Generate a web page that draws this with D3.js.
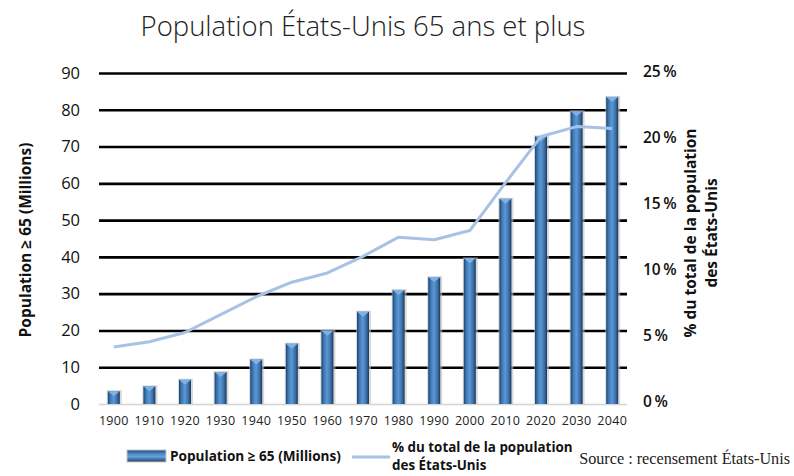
<!DOCTYPE html>
<html>
<head>
<meta charset="utf-8">
<script src="https://cdn.jsdelivr.net/npm/d3@7"></script>
<style>
  body { margin: 0; background: #fff; }
  svg { display: block; font-family: "Open Sans", "Noto Sans", sans-serif; }
</style>
</head>
<body>
<div id="chart"></div>
<script>
// data
var years = ["1900", "1910", "1920", "1930", "1940", "1950", "1960", "1970",
             "1980", "1990", "2000", "2010", "2020", "2030", "2040"];
var popMillions = [3.5, 4.8, 6.6, 8.7, 12.1, 16.4, 19.9, 25.1,
                   31.0, 34.5, 39.6, 55.8, 72.8, 79.6, 83.5];
var pctTotal = [4.3, 4.7, 5.4, 6.75, 8.1, 9.2, 9.9, 11.15,
                12.6, 12.4, 13.1, 16.7, 20.2, 20.95, 20.8];
var leftTicks = [0, 10, 20, 30, 40, 50, 60, 70, 80, 90];
var rightTicks = [0, 5, 10, 15, 20, 25];

var width = 794, height = 476;
var plot = {left: 99, right: 627, top: 73, bottom: 404};

var svg = d3.select("#chart").append("svg")
    .attr("width", width)
    .attr("height", height);

var defs = svg.append("defs");
var grad = defs.append("linearGradient").attr("id", "barGrad")
    .attr("x1", "0").attr("x2", "1").attr("y1", "0").attr("y2", "0");
[["0%", "#1c4674"], ["22%", "#3f7ab5"], ["48%", "#5c98d3"], ["78%", "#3b70a8"], ["100%", "#1a365a"]]
  .forEach(function(s) { grad.append("stop").attr("offset", s[0]).attr("stop-color", s[1]); });
var gradV = defs.append("linearGradient").attr("id", "legGrad")
    .attr("x1", "0").attr("x2", "0").attr("y1", "0").attr("y2", "1");
[["0%", "#1c4674"], ["30%", "#4a86c0"], ["55%", "#6aa3dc"], ["100%", "#1f3f66"]]
  .forEach(function(s) { gradV.append("stop").attr("offset", s[0]).attr("stop-color", s[1]); });

// scales
var x = d3.scaleBand().domain(years).range([96, 630]).padding(0);
var y = d3.scaleLinear().domain([0, 90]).range([plot.bottom, plot.top]);
var yPct = d3.scaleLinear().domain([0, 25]).range([plot.bottom, plot.top]);
var yPctLabels = d3.scaleLinear().domain([0, 25]).range([402, 72]);

// title
svg.append("text")
    .attr("x", 363).attr("y", 36)
    .attr("text-anchor", "middle")
    .attr("font-size", 27.5).attr("font-weight", 300)
    .attr("fill", "#222")
    .text("Population États-Unis 65 ans et plus");

// left axis with gridlines
var yaxis = d3.axisLeft(y).tickValues(leftTicks)
    .tickSize(-(plot.right - plot.left)).tickPadding(19);
var gy = svg.append("g")
    .attr("transform", "translate(" + plot.left + ",0)")
    .call(yaxis);
gy.select(".domain").remove();
gy.selectAll(".tick line")
    .attr("stroke", function(d) { return d === 0 ? "#d4d4d4" : "#000"; })
    .attr("stroke-width", function(d) { return d === 0 ? 1.5 : 2.6; });
gy.selectAll(".tick text")
    .attr("font-size", 16.5).attr("fill", "#111")
    .attr("font-family", "'Open Sans', sans-serif");

// right axis labels (percent)
var yaxisR = d3.axisRight(yPctLabels).tickValues(rightTicks)
    .tickSize(0).tickPadding(0)
    .tickFormat(function(d) { return d + "\u2009%"; });
var gr = svg.append("g")
    .attr("transform", "translate(643,0)")
    .call(yaxisR);
gr.select(".domain").remove();
gr.selectAll(".tick text")
    .attr("font-size", 15.5).attr("font-weight", 600).attr("fill", "#111")
    .attr("font-family", "'Open Sans', sans-serif");

// x axis labels
var xaxis = d3.axisBottom(x).tickSize(0).tickPadding(12);
var gx = svg.append("g")
    .attr("transform", "translate(0," + plot.bottom + ")")
    .call(xaxis);
gx.select(".domain").remove();
gx.selectAll(".tick text")
    .attr("font-size", 12.5).attr("fill", "#222")
    .attr("letter-spacing", "0.3px")
    .attr("font-family", "'Open Sans', sans-serif");

// bars
var barW = 12;
var bars = svg.append("g");
bars.selectAll("rect.shadow")
    .data(years)
  .enter().append("rect")
    .attr("class", "shadow")
    .attr("x", function(d) { return x(d) + x.bandwidth() / 2 - barW / 2 - 1; })
    .attr("y", function(d, i) { return y(popMillions[i]) - 1; })
    .attr("width", barW + 3)
    .attr("height", function(d, i) { return plot.bottom - y(popMillions[i]) + 1; })
    .attr("fill", "#bfbfbf").attr("opacity", 0.6);
bars.selectAll("rect.bar")
    .data(years)
  .enter().append("rect")
    .attr("class", "bar")
    .attr("x", function(d) { return x(d) + x.bandwidth() / 2 - barW / 2; })
    .attr("y", function(d, i) { return y(popMillions[i]); })
    .attr("width", barW)
    .attr("height", function(d, i) { return plot.bottom - y(popMillions[i]); })
    .attr("fill", "url(#barGrad)");
bars.selectAll("path.cap")
    .data(years)
  .enter().append("path")
    .attr("class", "cap")
    .attr("d", function(d, i) {
        var cx = x(d) + x.bandwidth() / 2, t = y(popMillions[i]);
        return "M" + (cx - barW / 2) + "," + t + "L" + (cx + barW / 2) + "," + t +
               "L" + cx + "," + (t + 5) + "Z";
    })
    .attr("fill", "#7fb2e4");

// percent line
var line = d3.line()
    .x(function(d, i) { return x(years[i]) + x.bandwidth() / 2; })
    .y(function(d) { return yPct(d); });
svg.append("path")
    .datum(pctTotal)
    .attr("fill", "none")
    .attr("stroke", "#a7c2e5")
    .attr("stroke-width", 3)
    .attr("stroke-linejoin", "round")
    .attr("d", line);

// axis titles
svg.append("text")
    .attr("transform", "translate(31,240) rotate(-90)")
    .attr("text-anchor", "middle")
    .attr("font-size", 15.5).attr("font-weight", 700).attr("fill", "#111")
    .text("Population \u2265 65 (Millions)");
var rt = svg.append("text")
    .attr("transform", "translate(696,233) rotate(-90)")
    .attr("text-anchor", "middle")
    .attr("font-size", 15.5).attr("font-weight", 700).attr("fill", "#111");
rt.append("tspan").attr("x", 0).attr("dy", 0).text("% du total de la population");
rt.append("tspan").attr("x", 0).attr("dy", 21).text("des États-Unis");

// legend
var leg = svg.append("g");
leg.append("rect").attr("x", 127).attr("y", 450).attr("width", 39).attr("height", 12)
    .attr("fill", "url(#legGrad)").attr("stroke", "#c8c8c8").attr("stroke-width", 1);
leg.append("text").attr("x", 170).attr("y", 461)
    .attr("font-size", 13.6).attr("font-weight", 700).attr("fill", "#111")
    .text("Population \u2265 65 (Millions)");
leg.append("line").attr("x1", 352).attr("x2", 390).attr("y1", 457).attr("y2", 457)
    .attr("stroke", "#a7c2e5").attr("stroke-width", 3);
var lt = leg.append("text").attr("x", 392).attr("y", 452)
    .attr("font-size", 13.4).attr("font-weight", 700).attr("fill", "#111");
lt.append("tspan").attr("x", 392).attr("dy", 0).text("% du total de la population");
lt.append("tspan").attr("x", 392).attr("dy", 18).text("des États-Unis");

// source
svg.append("text")
    .attr("x", 790).attr("y", 464)
    .attr("text-anchor", "end")
    .attr("font-size", 16.2)
    .attr("font-family", "'Liberation Serif', 'DejaVu Serif', serif")
    .attr("fill", "#222")
    .text("Source : recensement États-Unis");
</script>
</body>
</html>
